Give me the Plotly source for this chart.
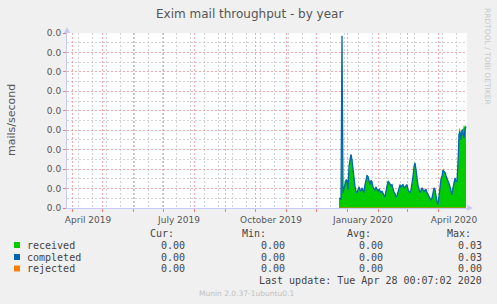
import plotly.graph_objects as go
import pandas as pd

# ---------------- data ----------------
start_date = "2019-12-24"
completed = [
    0.00179, 0.00175, 0.00161, 0.03100, 0.00270, 0.00361, 0.00448, 0.00480,
    0.00508, 0.00329, 0.00749, 0.00896, 0.00959, 0.00868, 0.00690, 0.00508,
    0.00389, 0.00298, 0.00270, 0.00329, 0.00378, 0.00329, 0.00298, 0.00361,
    0.00298, 0.00280, 0.00420, 0.00539, 0.00581, 0.00567, 0.00480, 0.00420,
    0.00497, 0.00462, 0.00378, 0.00340, 0.00319, 0.00378, 0.00340, 0.00298,
    0.00340, 0.00319, 0.00280, 0.00298, 0.00270, 0.00221, 0.00196, 0.00298,
    0.00403, 0.00480, 0.00462, 0.00438, 0.00403, 0.00420, 0.00340, 0.00280,
    0.00259, 0.00196, 0.00221, 0.00298, 0.00378, 0.00420, 0.00378, 0.00403,
    0.00420, 0.00378, 0.00361, 0.00403, 0.00420, 0.00329, 0.00298, 0.00270,
    0.00329, 0.00420, 0.00567, 0.00749, 0.00809, 0.00690, 0.00508, 0.00403,
    0.00340, 0.00280, 0.00319, 0.00361, 0.00329, 0.00298, 0.00319, 0.00340,
    0.00280, 0.00238, 0.00196, 0.00161, 0.00137, 0.00179, 0.00298, 0.00361,
    0.00329, 0.00196, 0.00119, 0.00060, 0.00210, 0.00438, 0.00522, 0.00567,
    0.00676, 0.00658, 0.00641, 0.00581, 0.00539, 0.00497, 0.00438, 0.00378,
    0.00280, 0.00238, 0.00361, 0.00480, 0.00539, 0.00480, 0.00480, 0.00809,
    0.01316, 0.01376, 0.01225, 0.01407, 0.01348, 0.01257, 0.01407, 0.01467,
]
received = [
    0.00185, 0.00180, 0.00170, 0.03000, 0.00280, 0.00370, 0.00500, 0.00520,
    0.00515, 0.00340, 0.00800, 0.00930, 0.00980, 0.00880, 0.00700, 0.00520,
    0.00400, 0.00310, 0.00280, 0.00340, 0.00390, 0.00340, 0.00310, 0.00370,
    0.00310, 0.00290, 0.00430, 0.00560, 0.00600, 0.00580, 0.00490, 0.00430,
    0.00510, 0.00470, 0.00390, 0.00350, 0.00330, 0.00390, 0.00350, 0.00310,
    0.00350, 0.00330, 0.00290, 0.00310, 0.00280, 0.00230, 0.00200, 0.00310,
    0.00430, 0.00500, 0.00480, 0.00450, 0.00410, 0.00430, 0.00350, 0.00290,
    0.00270, 0.00200, 0.00230, 0.00310, 0.00390, 0.00430, 0.00390, 0.00410,
    0.00430, 0.00390, 0.00370, 0.00410, 0.00430, 0.00340, 0.00310, 0.00280,
    0.00340, 0.00430, 0.00600, 0.00780, 0.00840, 0.00700, 0.00520, 0.00410,
    0.00350, 0.00290, 0.00330, 0.00370, 0.00340, 0.00310, 0.00330, 0.00350,
    0.00290, 0.00250, 0.00200, 0.00170, 0.00140, 0.00190, 0.00310, 0.00370,
    0.00340, 0.00200, 0.00120, 0.00050, 0.00220, 0.00450, 0.00530, 0.00590,
    0.00720, 0.00670, 0.00650, 0.00590, 0.00550, 0.00510, 0.00450, 0.00390,
    0.00290, 0.00250, 0.00370, 0.00490, 0.00550, 0.00490, 0.00490, 0.00900,
    0.01450, 0.01400, 0.01240, 0.01420, 0.01420, 0.01500, 0.01450, 0.01500,
]
rejected = [0.0] * len(completed)

month_ticks = ["2019-04-01", "2019-05-01", "2019-06-01", "2019-07-01", "2019-08-01",
               "2019-09-01", "2019-10-01", "2019-11-01", "2019-12-01", "2020-01-01",
               "2020-02-01", "2020-03-01", "2020-04-01"]
month_labels = ["April 2019", "", "", "July 2019", "", "", "October 2019", "", "",
                "January 2020", "", "", "April 2020"]

legend_names = ["received", "completed", "rejected"]
legend_colors = ["#00CC00", "#0066B3", "#FF8000"]
cur_vals = ["0.00", "0.00", "0.00"]
min_vals = ["0.00", "0.00", "0.00"]
avg_vals = ["0.00", "0.00", "0.00"]
max_vals = ["0.03", "0.03", "0.00"]

dates = pd.date_range(start_date, periods=len(completed), freq="D")

# ---------------- layout geometry ----------------
W, H = 497, 304
L, R, T, B = 67, 30, 33, 96
PW, PH = W - L - R, H - T - B


def px(x):
    return (x - L) / PW


def py(y):
    return (H - B - y) / PH


fig = go.Figure()
fig.add_trace(go.Scatter(x=dates, y=received, mode="lines", fill="tozeroy",
                         line=dict(color="#00CC00", width=0), fillcolor="#00CC00",
                         name="received", hoverinfo="skip"))
fig.add_trace(go.Scatter(x=dates, y=completed, mode="lines",
                         line=dict(color="#0066B3", width=1.3), name="completed"))
fig.add_trace(go.Scatter(x=dates, y=rejected, mode="lines",
                         line=dict(color="#FF8000", width=1), name="rejected"))

grid_red = "#F4A8A8"
grid_grey = "#D2D2D2"
grid_dash = "2px,2px"
axis_col = "#C8C8F4"

fig.update_xaxes(
    type="date", range=["2019-03-27", "2020-04-30"],
    tickvals=month_ticks, ticktext=month_labels, ticklabelshift=16,
    showgrid=True, gridcolor=grid_red, griddash=grid_dash, gridwidth=1,
    ticks="outside", ticklen=3, tickcolor="#F08080",
    minor=dict(dtick=14 * 86400000, tick0="2019-04-07", showgrid=True,
               gridcolor=grid_grey, griddash=grid_dash, gridwidth=1),
    showline=True, linecolor=axis_col, linewidth=1,
    tickfont=dict(family="DejaVu Sans", size=9, color="#555555"),
    zeroline=False, fixedrange=True,
)
fig.update_yaxes(
    range=[0, 0.0315], dtick=0.0035, tick0=0, tickformat=".1f",
    showgrid=True, gridcolor=grid_red, griddash=grid_dash, gridwidth=1,
    ticks="outside", ticklen=3, tickcolor="#F08080",
    minor=dict(dtick=0.00175, showgrid=True, gridcolor=grid_grey, griddash=grid_dash, gridwidth=1),
    showline=True, linecolor=axis_col, linewidth=1,
    tickfont=dict(family="DejaVu Sans", size=9, color="#555555"),
    zeroline=False, fixedrange=True,
)

shapes = []
# axis arrows
shapes.append(dict(type="path", xref="paper", yref="paper",
                   path=f"M {px(64)} {py(33)} L {px(70)} {py(33)} L {px(67)} {py(27)} Z",
                   fillcolor=axis_col, line=dict(width=0)))
shapes.append(dict(type="path", xref="paper", yref="paper",
                   path=f"M {px(467)} {py(205)} L {px(467)} {py(211)} L {px(473)} {py(208)} Z",
                   fillcolor=axis_col, line=dict(width=0)))
# legend squares
row_y = [245, 257, 268.5]
for c, yy in zip(legend_colors, row_y):
    shapes.append(dict(type="rect", xref="paper", yref="paper",
                       x0=px(14), x1=px(20), y0=py(yy - 3), y1=py(yy + 3),
                       fillcolor=c, line=dict(width=0)))

ann = []


def text(x, y, s, size=10, color="#444444", family="DejaVu Sans Mono", xanchor="left", angle=0):
    ann.append(dict(x=px(x), y=py(y), xref="paper", yref="paper", text=s, showarrow=False,
                    xanchor=xanchor, yanchor="middle", textangle=angle,
                    font=dict(family=family, size=size, color=color), borderpad=0))


text(249, 14, "Exim mail throughput - by year", size=12, color="#555555",
     family="DejaVu Sans", xanchor="center")
text(11, 120, "mails/second", size=11, color="#555555", family="DejaVu Sans",
     xanchor="center", angle=-90)
text(488, 56, "RRDTOOL / TOBI OETIKER", size=7.5, color="#C8C8C8", family="DejaVu Sans",
     xanchor="center", angle=90)

text(149, 233, "Cur:")
text(241, 233, "Min:")
text(346, 233, "Avg:")
text(446, 233, "Max:")
for i, name in enumerate(legend_names):
    yy = row_y[i]
    text(26, yy, name)
    text(186, yy, cur_vals[i], xanchor="right")
    text(286, yy, min_vals[i], xanchor="right")
    text(384, yy, avg_vals[i], xanchor="right")
    text(483, yy, max_vals[i], xanchor="right")
text(483, 280, "Last update: Tue Apr 28 00:07:02 2020", xanchor="right")
text(246, 293, "Munin 2.0.37-1ubuntu0.1", size=7.5, color="#C0C0C0",
     family="DejaVu Sans", xanchor="center")

fig.update_layout(
    width=W, height=H, margin=dict(l=L, r=R, t=T, b=B, pad=0),
    paper_bgcolor="#F0F0F0", plot_bgcolor="#FFFFFF",
    showlegend=False, shapes=shapes, annotations=ann,
    font=dict(family="DejaVu Sans", color="#555555"),
)

fig.write_html("out.html", config={"displayModeBar": False})
